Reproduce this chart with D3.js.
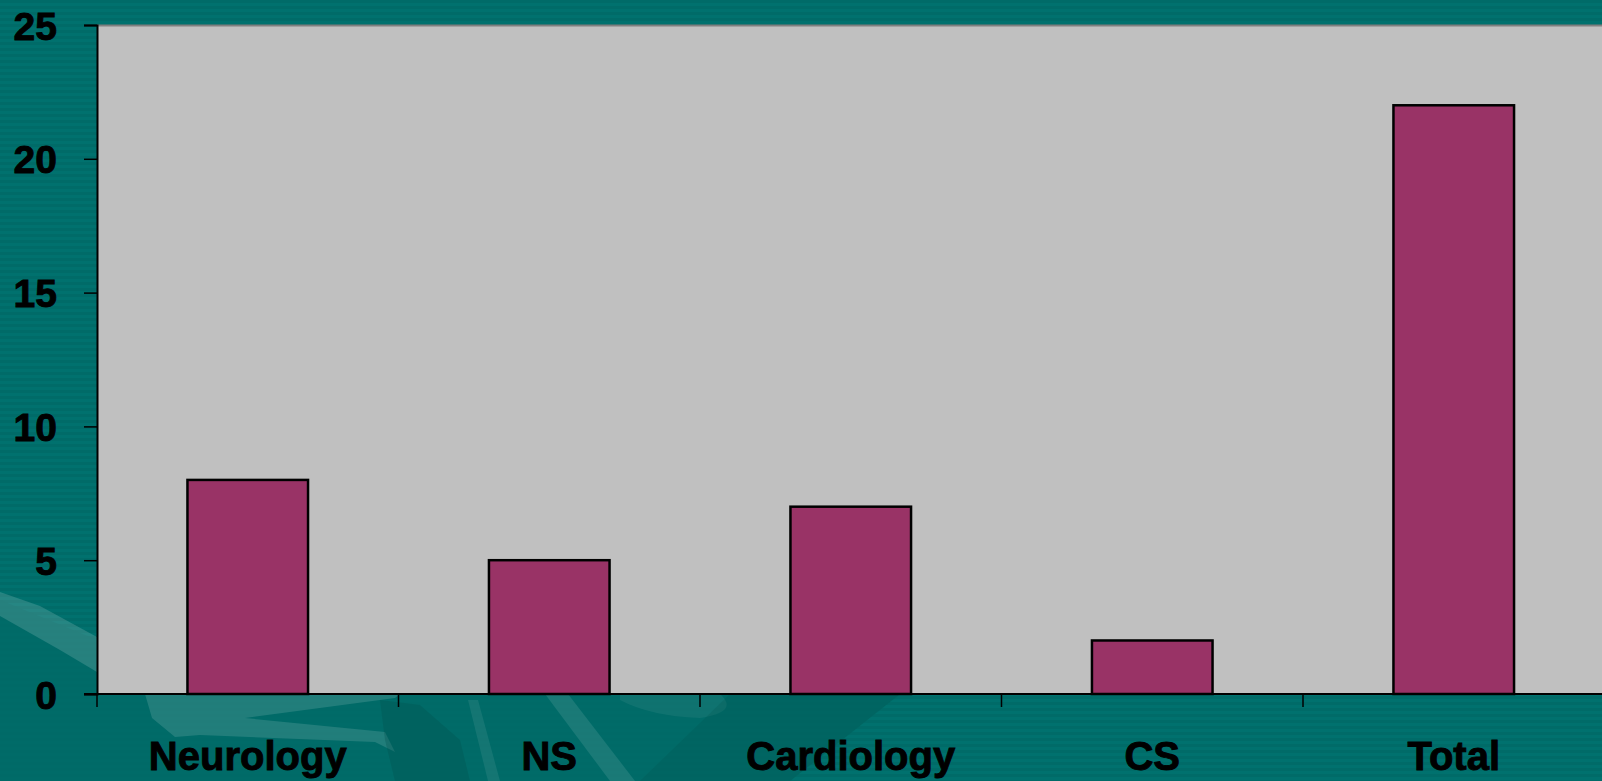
<html>
<head>
    <style>
        body { margin: 0; overflow: hidden; background: #006d6a; }
        text { font-family: "Liberation Sans", Arial, sans-serif; font-weight: bold; fill: #000; stroke: #000; stroke-width: 0.9px; }
    </style>
</head>
<body>
    <svg id="container" width="1602" height="781">
        <defs>
            <pattern id="stripes" width="8" height="6" patternUnits="userSpaceOnUse">
                <rect width="8" height="6" fill="#006b68"></rect>
                <rect y="3" width="8" height="3" fill="#00716e"></rect>
            </pattern>
        </defs>
        <rect width="1602" height="781" fill="url(#stripes)"></rect>
        <g id="deco"></g>
        <g id="body"></g>
        <g id="yAxis"></g>
        <g id="xAxis"></g>
    </svg>
</body>
<script src="https://cdn.jsdelivr.net/npm/d3@7"></script>
<script>
    let categories = ["Neurology", "NS", "Cardiology", "CS", "Total"]
    let values = [8, 5, 7, 2, 22]
    let yTicks = [0, 5, 10, 15, 20, 25]

    let plotLeft = 97, plotTop = 25, plotBottom = 694
    let step = 301.5

    // background swooshes, lower left (decoration only)
    let deco = d3.select("#deco")
    deco.append("path")
        .attr("d", "M0,600 L97,640 L97,694 L900,694 L790,781 L0,781 Z")
        .attr("fill", "#006a67").attr("opacity", 0.9)
    deco.append("path")
        .attr("d", "M0,592 L40,606 L97,637 L97,672 L60,650 L0,616 Z")
        .attr("fill", "#ffffff").attr("opacity", 0.15)
    deco.append("path")
        .attr("d", "M145,694 L400,694 L395,698 L245,718 L385,732 L395,752 L375,742 L200,735 L175,737 L152,718 Z")
        .attr("fill", "#ffffff").attr("opacity", 0.13)
    deco.append("path")
        .attr("d", "M380,700 L420,705 L460,740 L470,781 L395,781 L385,740 Z")
        .attr("fill", "#004f4d").attr("opacity", 0.3)
    deco.append("path")
        .attr("d", "M468,700 L478,700 L500,781 L488,781 Z")
        .attr("fill", "#ffffff").attr("opacity", 0.08)
    deco.append("path")
        .attr("d", "M545,694 L568,694 L635,781 L610,781 Z")
        .attr("fill", "#ffffff").attr("opacity", 0.1)
    deco.append("path")
        .attr("d", "M620,694 L720,694 Q740,712 700,718 Q650,716 620,700 Z")
        .attr("fill", "#ffffff").attr("opacity", 0.06)
    deco.append("path")
        .attr("d", "M730,694 L900,694 L790,781 L640,781 Z")
        .attr("fill", "#004f4d").attr("opacity", 0.2)

    let xScale = d3.scaleBand()
        .domain(categories)
        .range([plotLeft, plotLeft + step * categories.length])
        .padding(0)

    let yScale = d3.scaleLinear()
        .domain([0, 25])
        .range([plotBottom, plotTop])

    let body = d3.select("#body")

    // plot background
    body.append("rect")
        .attr("x", plotLeft).attr("y", plotTop)
        .attr("width", 1602 - plotLeft).attr("height", plotBottom - plotTop)
        .attr("fill", "#c0c0c0")
    body.append("line")
        .attr("x1", plotLeft).attr("x2", 1602)
        .attr("y1", plotTop + 0.5).attr("y2", plotTop + 0.5)
        .attr("stroke", "#808080").attr("stroke-width", 2)

    let barW = xScale.bandwidth() * 0.4
    body.selectAll(".bar")
        .data(values)
        .enter()
        .append("rect")
        .attr("class", "bar")
        .attr("x", (d, i) => xScale(categories[i]) + (xScale.bandwidth() - barW) / 2)
        .attr("y", d => yScale(d))
        .attr("width", barW)
        .attr("height", d => yScale(0) - yScale(d))
        .attr("fill", "#993366")
        .attr("stroke", "#000")
        .attr("stroke-width", 2.5)

    // y axis
    let yAxis = d3.select("#yAxis")
        .attr("transform", `translate(${plotLeft},0)`)
        .call(d3.axisLeft(yScale).tickValues(yTicks).tickSize(13).tickPadding(27))
    yAxis.select(".domain").attr("stroke", "#000").attr("stroke-width", 2)
    yAxis.selectAll(".tick line").attr("stroke", "#000").attr("stroke-width", 1.5)
    yAxis.selectAll(".tick text")
        .attr("font-size", 39).attr("font-family", null).attr("dy", "0.36em")

    // x axis: ticks at band edges
    let xAxis = d3.select("#xAxis")
        .attr("transform", `translate(0,${plotBottom})`)
    xAxis.append("line")
        .attr("x1", plotLeft - 13).attr("x2", 1602)
        .attr("stroke", "#000").attr("stroke-width", 2)
    let edges = categories.map(c => xScale(c))
    xAxis.selectAll(".xtick")
        .data(edges)
        .enter()
        .append("line")
        .attr("class", "xtick")
        .attr("x1", d => d).attr("x2", d => d)
        .attr("y1", 0).attr("y2", 13)
        .attr("stroke", "#000").attr("stroke-width", 1.5)
    xAxis.selectAll(".xlabel")
        .data(categories)
        .enter()
        .append("text")
        .attr("class", "xlabel")
        .attr("x", d => xScale(d) + xScale.bandwidth() / 2)
        .attr("y", 76)
        .attr("text-anchor", "middle")
        .attr("font-size", 40)
        .text(d => d)
</script>
</html>
